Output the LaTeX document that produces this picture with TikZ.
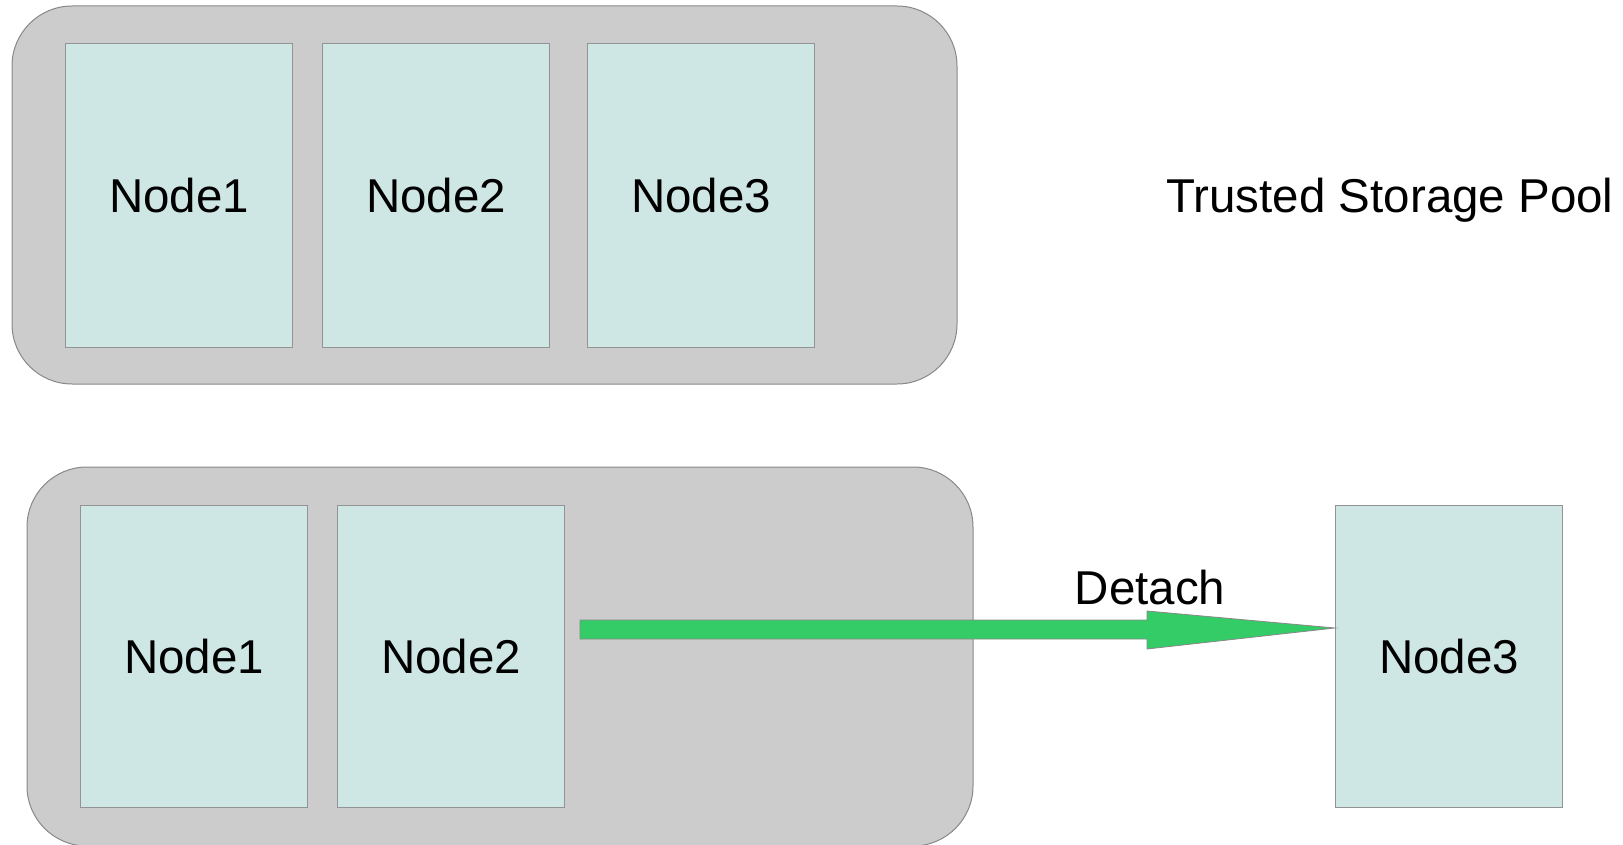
\documentclass[tikz,border=0pt]{standalone}
\usepackage{fontspec}
\setmainfont{Liberation Sans}
\begin{document}
\begin{tikzpicture}[x=1pt,y=-1pt,
  pool/.style={fill=poolgray,draw=edgegray,line width=1pt,rounded corners=60pt},
  box/.style={fill=nodeteal,draw=boxedge,line width=1pt},
  lbl/.style={font=\fontsize{47.5}{50}\selectfont,text=black,inner sep=0pt},
  detach/.style={fill=arrowgreen,draw=edgegray,line width=0.8pt}]
\definecolor{poolgray}{HTML}{CCCCCC}
\definecolor{edgegray}{HTML}{888888}
\definecolor{nodeteal}{HTML}{CFE7E4}
\definecolor{boxedge}{HTML}{939393}
\definecolor{arrowgreen}{HTML}{33CC66}
\useasboundingbox (0,0) rectangle (1623,845);

% pool with all three nodes
\draw[pool] (12,6) rectangle (957,384);
\node[box,minimum width=227pt,minimum height=304pt,anchor=north west] (t1) at (65,43) {};
\node[box,minimum width=227pt,minimum height=304pt,anchor=north west] (t2) at (322,43) {};
\node[box,minimum width=227pt,minimum height=304pt,anchor=north west] (t3) at (587,43) {};
\node[lbl] at (t1.center) {Node1};
\node[lbl] at (t2.center) {Node2};
\node[lbl] at (t3.center) {Node3};
\node[lbl,anchor=base] (tsp) at (1390,213) {Trusted Storage Pool};

% pool after detaching Node3
\draw[pool] (27,467) rectangle (973,846);
\node[box,minimum width=227pt,minimum height=302pt,anchor=north west] (b1) at (80,505) {};
\node[box,minimum width=227pt,minimum height=302pt,anchor=north west] (b2) at (337,505) {};
\node[box,minimum width=227pt,minimum height=302pt,anchor=north west] (b3) at (1335,505) {};
\node[lbl] at (b1.center) {Node1};
\node[lbl] at (b2.center) {Node2};
\node[lbl] at (b3.center) {Node3};

% block arrow from the pool to the detached node
\coordinate (as) at (580,629.5);
\coordinate (tip) at (b3.west |- 0,628);
\draw[detach] (as |- 0,620) -- (1147,620) -- (1147,611) -- (tip)
  -- (1147,649) -- (1147,639) -- (as |- 0,639) -- cycle;
\node[lbl] (dl) at (1150,588) {Detach};
\end{tikzpicture}
\end{document}
